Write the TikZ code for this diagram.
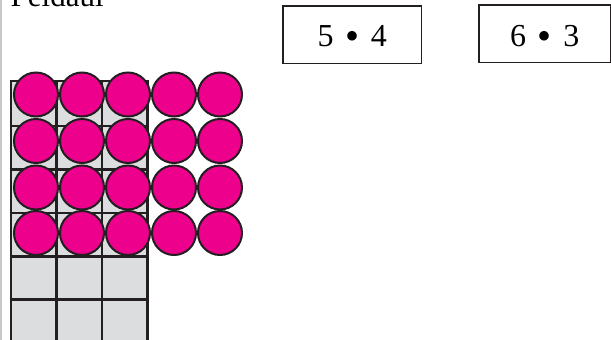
\documentclass[tikz,border=0pt]{standalone}
\usepackage{fontspec}
\setmainfont{Liberation Serif}
\definecolor{ink}{HTML}{231F20}
\definecolor{mag}{HTML}{EC008C}
\definecolor{cell}{HTML}{DCDDDE}
\definecolor{edge}{HTML}{C8C8C8}
\tikzset{
  dot/.style={circle, draw=ink, fill=mag, line width=2pt, minimum size=44pt, inner sep=0pt},
  gridline/.style={draw=ink, line width=2.6pt},
  exprbox/.style={draw=ink, line width=1.3pt, inner sep=0pt, font=\fontsize{32}{32}\selectfont},
  title/.style={inner sep=0pt, font=\fontsize{31}{31}\selectfont},
}
\newcommand{\bul}{\hspace{0.36em}\raisebox{-0.08em}{\scalebox{1.25}{\textbullet}}\hspace{0.36em}}
\begin{document}
\begin{tikzpicture}[x=1pt,y=-1pt]
\useasboundingbox (0,0) rectangle (611,340);
% left edge line
\coordinate (et) at (1,0);
\coordinate (eb) at (1,340);
\draw[edge, line width=1.5pt] (et) -- (eb);
% title
\node[title, anchor=base west] (ttl) at (10.5,6.5) {Peldaul};
% grid
\fill[cell] (11,81) rectangle (147.5,345);
\foreach \x in {11,56.5,102,147.5} \draw[gridline] (\x,81) -- (\x,345);
\foreach \y in {81,126,169.5,213,256.5,299.5} \draw[gridline] (9.7,\y) -- (148.8,\y);
% circles
\foreach \r/\y in {1/94.5,2/141,3/187.5,4/233}
  \foreach \c/\x in {1/36,2/82,3/128,4/174,5/220}
    \node[dot] (c\r\c) at (\x,\y) {};
% boxes
\node[exprbox, minimum width=138.5pt, minimum height=57.5pt, text height=26pt] (b1) at (352.25,34.75) {5\bul 4};
\node[exprbox, minimum width=131.5pt, minimum height=57.5pt, text height=28pt] (b2) at (544.75,33.75) {6\bul 3};
\end{tikzpicture}
\end{document}
